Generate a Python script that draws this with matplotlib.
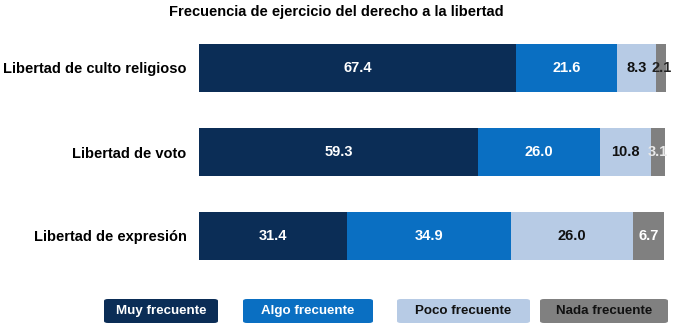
import matplotlib
matplotlib.use("Agg")
import matplotlib.pyplot as plt
from matplotlib.patches import FancyBboxPatch
import numpy as np

plt.rcParams['font.family'] = ['Liberation Sans', 'DejaVu Sans']

categories = ["Libertad de culto religioso", "Libertad de voto", "Libertad de expresión"]
series_names = ["Muy frecuente", "Algo frecuente", "Poco frecuente", "Nada frecuente"]
muy = [67.4, 59.3, 31.4]
algo = [21.6, 26.0, 34.9]
poco = [8.3, 10.8, 26.0]
nada = [2.1, 3.1, 6.7]
title = "Frecuencia de ejercicio del derecho a la libertad"

colors = ["#0B2D56", "#0A6FC2", "#B7CBE5", "#808080"]
text_colors = ["white", "white", "#111111", "white"]

fig = plt.figure(figsize=(6.73, 3.31), dpi=100)
ax = fig.add_axes([199/673, 1-278/331, 470/673, 252/331])

data = [muy, algo, poco, nada]
y = np.arange(len(categories))
left = np.zeros(len(categories))
for i, (vals, c) in enumerate(zip(data, colors)):
    vals = np.array(vals)
    ax.barh(y, vals, left=left, height=0.58, color=c, edgecolor='none')
    for j, v in enumerate(vals):
        tc = text_colors[i]
        if i == 3 and v < 3:
            tc = "#222222"
        if i == 3 and 3 <= v < 4:
            tc = "#E8E8E8"
        ax.text(left[j] + v/2, y[j], f"{v:.1f}", ha='center', va='center',
                color=tc, fontsize=10.5, fontweight='bold')
    left += vals

ax.set_xlim(0, 100)
ax.set_ylim(2.5, -0.5)
ax.set_yticks(y)
ax.set_yticklabels(categories, fontsize=10.5, fontweight='bold')
ax.tick_params(axis='y', length=0, pad=9)
ax.set_xticks([])
for s in ax.spines.values():
    s.set_visible(False)

fig.text(0.5, 1-12/331, title, ha='center', va='center', fontsize=10.5, fontweight='bold')

boxes = [(104, 218), (243, 373), (397, 530), (540, 668)]
for (x0, x1), name, c, tc in zip(boxes, series_names, colors, ["white", "white", "#111111", "#111111"]):
    fx0 = x0/673; fw = (x1-x0)/673
    fy0 = 1-323/331; fh = 24/331
    p = FancyBboxPatch((fx0, fy0), fw, fh, boxstyle="round,pad=0,rounding_size=0.006",
                       transform=fig.transFigure, facecolor=c, edgecolor='none')
    fig.patches.append(p)
    fig.text(fx0 + fw/2, fy0 + fh/2, name, ha='center', va='center', fontsize=9.6,
             fontweight='bold', color=tc)

fig.savefig("out.png", dpi=100)
